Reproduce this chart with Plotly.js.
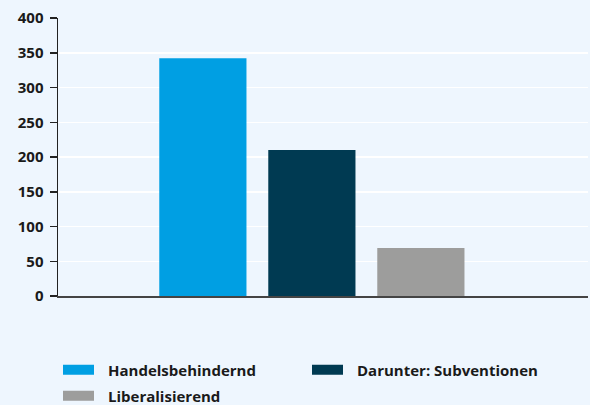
<!DOCTYPE html>
<html><head><meta charset="utf-8">
<script src="https://cdn.plot.ly/plotly-3.0.1.min.js"></script>
<style>html,body{margin:0;padding:0;background:#EEF6FE;}</style>
</head><body>
<div id="chart" style="width:590px;height:405px;"></div>
<script>
const categories = [""];
const seriesNames = ["Handelsbehindernd", "Darunter: Subventionen", "Liberalisierend"];
const handelsbehindernd = [342];
const subventionen = [210];
const liberalisierend = [69];
const yTicks = [0, 50, 100, 150, 200, 250, 300, 350, 400];
const colors = ["#009FE3", "#003A52", "#9D9D9C"];
const values = [handelsbehindernd, subventionen, liberalisierend];

const FONT = "Open Sans, sans-serif";
const traces = values.map((v, i) => ({
  type: "bar", x: categories, y: v, name: seriesNames[i],
  marker: {color: colors[i]}, showlegend: false, hoverinfo: "skip"
}));
// legend proxies (wide flat swatches)
const legendIds = ["legend", "legend", "legend2"];
seriesNames.forEach((n, i) => {
  traces.push({type: "scatter", mode: "lines", x: [null], y: [null], name: "\u2002\u200A" + n,
    line: {color: colors[i], width: 11.5}, legend: legendIds[i], showlegend: true});
});

const legendFont = {family: FONT, size: 15, color: "#1a1a1a", weight: "bold"};
const layout = {
  width: 590, height: 405,
  margin: {l: 58, r: 2, t: 18, b: 109, autoexpand: false},
  paper_bgcolor: "#EEF6FE", plot_bgcolor: "#EEF6FE",
  barmode: "group", bargap: 0.383, bargroupgap: 0.2,
  font: {family: FONT, color: "#1a1a1a"},
  xaxis: {type: "category", range: [-0.479, 0.521], showgrid: false, zeroline: false,
    showline: true, linecolor: "#444", linewidth: 2, showticklabels: false, ticks: "", fixedrange: true},
  yaxis: {range: [0, 400], tickvals: yTicks, ticktext: yTicks.map(String),
    showgrid: true, gridcolor: "#ffffff", gridwidth: 1.5, zeroline: false,
    showline: true, linecolor: "#222", linewidth: 1.5,
    ticks: "outside", ticklen: 7, tickcolor: "#222", tickwidth: 1.5, ticklabelstandoff: 3,
    tickfont: {family: FONT, size: 15, color: "#1a1a1a", weight: "bold"}},
  legend: {orientation: "h", x: 0, xanchor: "left", y: -0.266, yanchor: "middle",
    entrywidth: 203, entrywidthmode: "pixels", itemwidth: 31, bgcolor: "rgba(0,0,0,0)",
    font: legendFont},
  legend2: {orientation: "h", x: 0, xanchor: "left", y: -0.36, yanchor: "middle",
    itemwidth: 31, bgcolor: "rgba(0,0,0,0)", font: legendFont}
};
Plotly.newPlot("chart", traces, layout, {displayModeBar: false, staticPlot: true});
</script>
</body></html>
